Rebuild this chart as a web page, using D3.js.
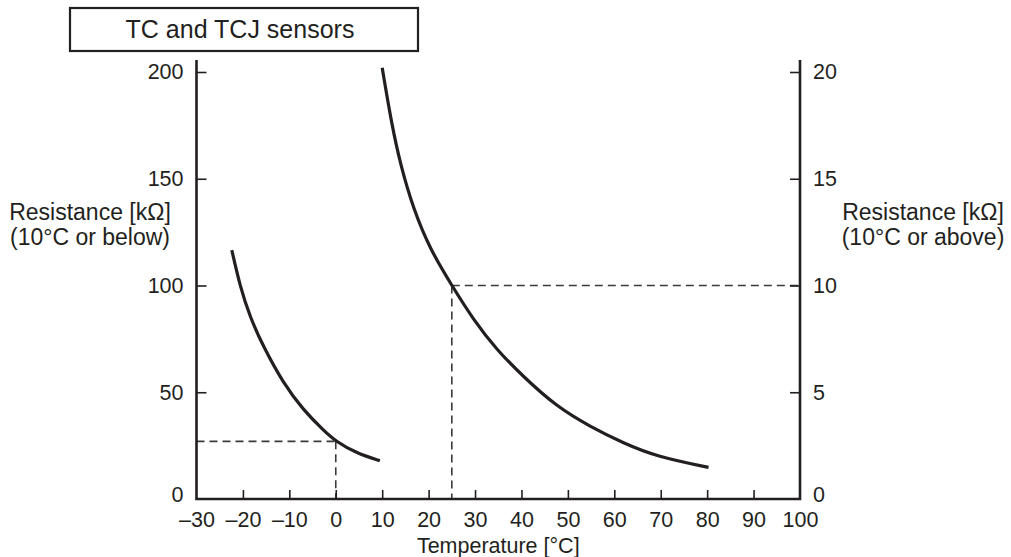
<!DOCTYPE html>
<html>
<head>
<meta charset="utf-8">
<script src="https://cdn.jsdelivr.net/npm/d3@7"></script>
<style>
  body { margin: 0; background: #fff; }
  text { font-family: "Liberation Sans", Arial, Helvetica, sans-serif; fill: #231f20; }
</style>
</head>
<body>
<svg id="chart" width="1011" height="557"></svg>
<script>
// x axis ticks (temperature, °C)
const tempTicks = [-30, -20, -10, 0, 10, 20, 30, 40, 50, 60, 70, 80, 90, 100];
const leftTicks = [0, 50, 100, 150, 200];   // kΩ, 10°C or below
const rightTicks = [0, 5, 10, 15, 20];      // kΩ, 10°C or above

// low range curve: [temperature, kΩ] on left axis
const lowCurve = [
    [-22.4, 116.6], [-20.6, 99.4], [-18.5, 85.4], [-15.6, 71.3], [-11.3, 54.2],
    [-7, 41.7], [-2.7, 32.3], [0, 27], [4.5, 21.4], [9.5, 17.9]
];
// high range curve: [temperature, kΩ] on right axis
const highCurve = [
    [10, 20.2], [12, 17.6], [14, 15.6], [16.7, 13.6], [20.3, 11.7], [25, 10],
    [29.7, 8.38], [34.7, 6.98], [40.4, 5.73], [47.6, 4.32], [54.8, 3.39],
    [62, 2.61], [69.2, 1.98], [80.3, 1.48]
];
// reference points marked with dashed lines
const lowRef = [0, 27];
const highRef = [25, 10];

const ink = "#231f20";
const svg = d3.select("#chart");

const plot = {left: 196.5, right: 800, top: 72, bottom: 499, axisTop: 60};

const x = d3.scaleLinear().domain([-30, 100]).range([plot.left, plot.right]);
const yLeft = d3.scaleLinear().domain([0, 200]).range([plot.bottom, plot.top]);
const yRight = d3.scaleLinear().domain([0, 20]).range([plot.bottom, plot.top]);

const fmt = d => d < 0 ? "\u2013" + Math.abs(d) : String(d);

// title box
svg.append("rect")
    .attr("x", 70).attr("y", 8)
    .attr("width", 348).attr("height", 43)
    .attr("fill", "none").attr("stroke", ink).attr("stroke-width", 2.2);
svg.append("text")
    .attr("x", 240).attr("y", 38)
    .attr("text-anchor", "middle")
    .style("font-size", "25px")
    .text("TC and TCJ sensors");

// dashed reference lines
const dash = svg.append("g")
    .attr("fill", "none")
    .attr("stroke", "#3a3a3a")
    .attr("stroke-width", 1.6)
    .attr("stroke-dasharray", "8,5");
dash.append("line")
    .attr("x1", x(-30)).attr("x2", x(lowRef[0]))
    .attr("y1", yLeft(lowRef[1])).attr("y2", yLeft(lowRef[1]));
dash.append("line")
    .attr("x1", x(lowRef[0])).attr("x2", x(lowRef[0]))
    .attr("y1", yLeft(lowRef[1])).attr("y2", yLeft(0));
dash.append("line")
    .attr("x1", x(highRef[0])).attr("x2", x(100))
    .attr("y1", yRight(highRef[1])).attr("y2", yRight(highRef[1]));
dash.append("line")
    .attr("x1", x(highRef[0])).attr("x2", x(highRef[0]))
    .attr("y1", yRight(highRef[1])).attr("y2", yRight(0));

// axes
const gx = svg.append("g")
    .attr("transform", `translate(0,${plot.bottom})`)
    .call(d3.axisBottom(x).tickValues(tempTicks).tickFormat(fmt)
        .tickSizeInner(-9).tickSizeOuter(0).tickPadding(13));

const gl = svg.append("g")
    .attr("transform", `translate(${plot.left},0)`)
    .call(d3.axisLeft(yLeft).tickValues(leftTicks).tickFormat(fmt)
        .tickSizeInner(-10).tickSizeOuter(0).tickPadding(13));

const gr = svg.append("g")
    .attr("transform", `translate(${plot.right},0)`)
    .call(d3.axisRight(yRight).tickValues(rightTicks).tickFormat(fmt)
        .tickSizeInner(-10).tickSizeOuter(0).tickPadding(13));

[gx, gl, gr].forEach(g => {
    g.select(".domain").remove();
    g.selectAll(".tick line").attr("stroke", ink).attr("stroke-width", 1.6);
    g.selectAll(".tick text")
        .attr("fill", ink)
        .style("font-size", "21.5px")
        .style("font-family", '"Liberation Sans", Arial, Helvetica, sans-serif');
});
// no ticks on the frame corners
gx.selectAll(".tick").filter(d => d === -30 || d === 100).select("line").remove();
gl.selectAll(".tick").filter(d => d === 0).select("line").remove();
gr.selectAll(".tick").filter(d => d === 0).select("line").remove();
// lift the zeros a little, as in the source
gr.selectAll(".tick").filter(d => d === 0).select("text").attr("dy", "0.1em");
gl.selectAll(".tick").filter(d => d === 0).select("text").attr("dy", "0.1em");

// frame lines
const frame = svg.append("g").attr("stroke", ink).attr("stroke-width", 2.6).attr("fill", "none");
frame.append("path")
    .attr("d", `M${plot.left},${plot.axisTop}V${plot.bottom}H${plot.right}V${plot.axisTop}`);

// curves (smoothed through the read points)
const lineLow = d3.line()
    .x(d => x(d[0])).y(d => yLeft(d[1]))
    .curve(d3.curveBasis);
const lineHigh = d3.line()
    .x(d => x(d[0])).y(d => yRight(d[1]))
    .curve(d3.curveBasis);

svg.append("path").datum(lowCurve)
    .attr("d", lineLow)
    .attr("fill", "none").attr("stroke", ink).attr("stroke-width", 3.2);
svg.append("path").datum(highCurve)
    .attr("d", lineHigh)
    .attr("fill", "none").attr("stroke", ink).attr("stroke-width", 3.2);

// axis titles
svg.append("text")
    .attr("x", (plot.left + plot.right) / 2).attr("y", 553)
    .attr("text-anchor", "middle")
    .style("font-size", "21.5px")
    .text("Temperature [°C]");

const leftTitle = svg.append("text")
    .attr("text-anchor", "middle")
    .style("font-size", "23px");
leftTitle.append("tspan").attr("x", 90).attr("y", 220).text("Resistance [k\u03a9]");
leftTitle.append("tspan").attr("x", 90).attr("y", 245).text("(10°C or below)");

const rightTitle = svg.append("text")
    .attr("text-anchor", "middle")
    .style("font-size", "23px");
rightTitle.append("tspan").attr("x", 923).attr("y", 220).text("Resistance [k\u03a9]");
rightTitle.append("tspan").attr("x", 923).attr("y", 245).text("(10°C or above)");
</script>
</body>
</html>
